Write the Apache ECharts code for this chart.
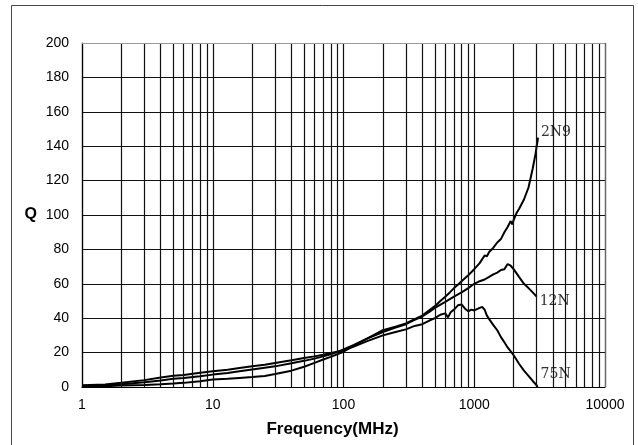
<!DOCTYPE html>
<html>
<head>
<meta charset="utf-8">
<script src="https://cdn.jsdelivr.net/npm/echarts@6/dist/echarts.min.js"></script>
<style>
  html, body { margin: 0; padding: 0; background: #fff; }
  #chart { width: 638px; height: 445px; }
</style>
</head>
<body>
<div id="chart"></div>
<script>
// 数据
const freq2N9 = [1, 1.5, 2, 3, 4, 5, 6, 8, 10, 13, 16, 20, 25, 30, 40, 50, 60, 70, 80, 100, 120, 150, 200, 250, 300, 350, 400, 450, 500, 550, 600, 650, 700, 750, 800, 900, 1000, 1100, 1200, 1250, 1300, 1400, 1500, 1600, 1700, 1800, 1900, 1950, 2000, 2050, 2100, 2200, 2400, 2600, 2800, 2950, 3000, 3050, 3070];
const q2N9 = [0.3, 0.5, 0.8, 1.2, 1.6, 2, 2.4, 3.3, 4.3, 4.8, 5.3, 5.8, 6.4, 7.5, 9.5, 11.8, 14, 16, 17.5, 20.5, 24, 28, 33, 35, 37, 39.5, 41.5, 44.5, 47, 50, 52.5, 55, 57.5, 59.5, 61.5, 65, 68.5, 72, 76.5, 76, 78.5, 81, 84, 86, 90, 93, 96.5, 94.5, 97, 99, 101, 103.5, 109, 116, 127, 136, 140, 143, 145];

const freq12N = [1, 1.5, 2, 3, 4, 5, 6, 8, 10, 13, 16, 20, 25, 30, 40, 50, 60, 70, 80, 100, 120, 150, 200, 250, 300, 350, 400, 450, 500, 600, 700, 800, 900, 1000, 1100, 1200, 1300, 1400, 1500, 1600, 1700, 1800, 1900, 2000, 2200, 2400, 2600, 2800, 3000];
const q12N = [0.6, 1, 1.6, 2.8, 3.8, 4.8, 5.2, 6.2, 7.2, 8.2, 9.2, 10.2, 11.2, 12, 13.8, 15.2, 16.5, 17.8, 19, 21.8, 24.5, 28, 32, 34.5, 36.5, 39, 41, 43.5, 46, 49.5, 52.5, 55, 57.5, 60, 61.5, 62.5, 64, 65.5, 66.5, 68, 68.5, 71.5, 70.5, 68.5, 64, 60, 57.5, 55, 52.5];

const freq75N = [1, 1.5, 2, 3, 4, 5, 6, 8, 10, 13, 16, 20, 25, 30, 40, 50, 60, 70, 80, 100, 120, 150, 200, 250, 300, 350, 400, 450, 500, 550, 600, 630, 660, 700, 750, 800, 850, 900, 950, 1000, 1100, 1150, 1200, 1250, 1300, 1400, 1500, 1600, 1700, 1800, 2000, 2100, 2200, 2400, 2600, 2800, 3000, 3050];
const q75N = [1, 1.5, 2.5, 4, 5.5, 6.5, 7, 8.3, 9.2, 10, 11, 12, 13, 14, 15.5, 16.8, 17.8, 18.8, 19.8, 21.3, 23.5, 26.5, 30, 32, 33.5, 35.5, 36.5, 38.5, 40, 42, 42.8, 40.5, 43.5, 45, 47.5, 48, 45.5, 44, 45, 44.5, 46, 46.5, 45, 41.5, 39.5, 36, 33, 29, 26, 23, 18.5, 16, 13.5, 9.5, 6.5, 3.5, 1, 0];

const seriesNames = ['2N9', '12N', '75N'];
const xTicks = [1, 10, 100, 1000, 10000];

function pairs(xs, ys) {
  return xs.map((x, i) => [x, ys[i]]);
}

// 对数网格的次网格线 (2..9 × 10^n)
const minorLines = [];
for (let d = 1; d < 10000; d *= 10) {
  for (let k = 2; k <= 9; k++) minorLines.push({ xAxis: k * d });
}

const myChart = echarts.init(document.getElementById('chart'));
const lineCommon = {
  type: 'line',
  showSymbol: false,
  symbol: 'none',
  smooth: false,
  lineStyle: { color: '#000', width: 2 },
  itemStyle: { color: '#000' },
  z: 3
};
const endLabelStyle = {
  show: true,
  formatter: '{a}',
  fontFamily: 'DejaVu Serif',
  fontSize: 14,
  color: '#333',
  distance: 3
};
const gridColor = '#111';

const option = {
  animation: false,
  backgroundColor: '#fff',
  grid: { left: 82, right: 33, top: 43, bottom: 58 },
  graphic: [{
    type: 'rect',
    shape: { x: 11.5, y: 5.5, width: 622, height: 460 },
    style: { fill: 'none', stroke: '#444', lineWidth: 1 },
    silent: true
  }],
  xAxis: {
    type: 'log',
    logBase: 10,
    min: 1,
    max: 10000,
    name: 'Frequency(MHz)',
    nameLocation: 'middle',
    nameGap: 34,
    nameTextStyle: { fontFamily: 'Liberation Sans', fontWeight: 'bold', fontSize: 17, color: '#000', padding: [0, 22, 0, 0] },
    axisLine: { show: true, lineStyle: { color: '#000', width: 1.2 } },
    axisTick: { show: false },
    axisLabel: {
      margin: 11,
      fontFamily: 'Liberation Sans',
      fontSize: 14,
      color: '#000',
      formatter: v => String(Math.round(v)),
      customValues: xTicks
    },
    splitLine: { show: true, lineStyle: { color: gridColor, width: 1.2 } }
  },
  yAxis: {
    type: 'value',
    min: 0,
    max: 200,
    interval: 20,
    name: 'Q',
    nameLocation: 'middle',
    nameRotate: 0,
    nameGap: 45,
    nameTextStyle: { fontFamily: 'Liberation Sans', fontWeight: 'bold', fontSize: 16, color: '#000' },
    axisLine: { show: true, lineStyle: { color: '#000', width: 1.2 } },
    axisTick: { show: false },
    axisLabel: { margin: 13, fontFamily: 'Liberation Sans', fontSize: 14, color: '#000' },
    splitLine: { show: true, lineStyle: { color: gridColor, width: 1.2 } }
  },
  series: [
    Object.assign({}, lineCommon, {
      name: seriesNames[0],
      data: pairs(freq2N9, q2N9),
      endLabel: Object.assign({}, endLabelStyle, { offset: [0, -5] }),
      markLine: {
        silent: true,
        symbol: ['none', 'none'],
        label: { show: false },
        lineStyle: { color: gridColor, width: 1.2, type: 'solid' },
        emphasis: { disabled: true },
        data: minorLines.concat([
          { yAxis: 200, lineStyle: { color: '#999' } },
          { xAxis: 10000, lineStyle: { color: '#666' } }
        ])
      }
    }),
    Object.assign({}, lineCommon, {
      name: seriesNames[1],
      data: pairs(freq12N, q12N),
      endLabel: Object.assign({}, endLabelStyle, { offset: [0, 5] })
    }),
    Object.assign({}, lineCommon, {
      name: seriesNames[2],
      data: pairs(freq75N, q75N),
      endLabel: Object.assign({}, endLabelStyle, { offset: [0, -13] })
    })
  ]
};
myChart.setOption(option);
window.addEventListener('resize', function () { myChart.resize(); });
</script>
</body>
</html>
